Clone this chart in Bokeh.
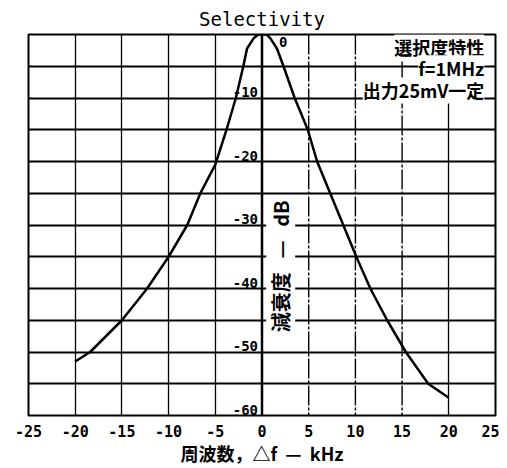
import math
from bokeh.plotting import figure
from bokeh.models import Range1d, FixedTicker, Label, Span
from bokeh.core.properties import value
from bokeh.embed import file_html
from bokeh.resources import INLINE

# ---- data ----
freq_khz = [-20, -18.4, -15, -12.3, -10, -8, -6.6, -5, -3.8, -2.8, -2.0, -1.6, -0.9, -0.4,
            0.5, 0.9, 1.6, 2.3, 3.5, 4.9, 5.9, 7.3, 8.7, 10.1, 11.6, 13.4, 15.4, 17.8, 20]
atten_db = [-51.5, -50, -45, -40, -35, -30, -25, -20.5, -15, -10, -5, -2.2, -0.6, 0,
            0, -0.6, -2.2, -5, -10, -15, -20, -25, -30, -35, -40, -45, -50, -55, -57.2]

x_ticks = [-25, -20, -15, -10, -5, 0, 5, 10, 15, 20, 25]
x_tick_labels = ["-25", "-20", "-15", "-10", "-5", "0", "5", "10", "15", "20", "25"]
x_grid_solid = [-20, -15, -10, -5, 20]
x_grid_dashdot = [5, 10, 15]
y_label_vals = [-10, -20, -30, -40, -50, -60]
y_label_texts = ["-10", "-20", "-30", "-40", "-50", "-60"]
y_zero_val = [0]
y_zero_text = ["0"]
grid_y = [0, -5, -10, -15, -20, -25, -30, -35, -40, -45, -50, -55, -60]

title_text = "Selectivity"
x_label_text = "周波数，△f\u00a0\u00a0—\u00a0\u00a0kHz"
y_label_text = "減衰度\u00a0\u00a0\u00a0—\u00a0\u00a0\u00a0dB"
note_lines = ["選択度特性", "f=1MHz", "出力25mV一定"]

p = figure(width=499, height=468, output_backend="svg", toolbar_location=None,
           x_range=Range1d(-25, 25), y_range=Range1d(-60, 0),
           min_border_left=28, min_border_right=4, min_border_top=34, min_border_bottom=40)

p.title.text = title_text
p.title.align = "center"
p.title.text_font = "DejaVu Sans Mono"
p.title.text_font_size = "19px"
p.title.text_font_style = "normal"
p.title.text_color = "black"
p.title.standoff = 10

p.outline_line_color = "black"
p.outline_line_width = 2
p.outline_line_alpha = 1

# x axis
p.xaxis.ticker = FixedTicker(ticks=x_ticks)
p.xaxis.major_label_overrides = {t: s for t, s in zip(x_ticks, x_tick_labels)}
p.xaxis.major_label_text_font = "DejaVu Sans Mono"
p.xaxis.major_label_text_font_style = "bold"
p.xaxis.major_label_text_font_size = "15px"
p.xaxis.major_label_text_color = "black"
p.xaxis.major_tick_line_color = None
p.xaxis.minor_tick_line_color = None
p.xaxis.axis_line_color = None
p.xaxis.major_label_standoff = 3
p.xaxis.axis_label = x_label_text
p.xaxis.axis_label_text_font = "Noto Sans CJK JP"
p.xaxis.axis_label_text_font_style = "bold"
p.xaxis.axis_label_text_font_size = "18px"
p.xaxis.axis_label_standoff = 0
p.xaxis.axis_label_text_color = "black"

p.yaxis.visible = False

# grids
p.xgrid.ticker = FixedTicker(ticks=x_grid_solid)
p.xgrid.grid_line_color = "black"
p.xgrid.grid_line_width = 1.3
p.xgrid.grid_line_alpha = 1
p.ygrid.ticker = FixedTicker(ticks=grid_y)
p.ygrid.grid_line_color = "black"
p.ygrid.grid_line_width = 1.8
p.ygrid.grid_line_alpha = 1
for xv in x_grid_dashdot:
    p.add_layout(Span(location=xv, dimension="height", line_color="black",
                      line_width=1.4, line_dash="20 2 3 2"))

# central axis line
p.add_layout(Span(location=0, dimension="height", line_color="black", line_width=2.5))

# curve
p.line(freq_khz, atten_db, line_color="black", line_width=2.5, line_join="round")

# y tick labels along the centre axis
p.text(x=[0] * len(y_label_vals), y=y_label_vals, text=y_label_texts,
       text_align="right", text_baseline="bottom", x_offset=-4, y_offset=-1,
       text_font=value("DejaVu Sans Mono"), text_font_style="bold",
       text_font_size="14px", text_color="black")
p.text(x=[0], y=y_zero_val, text=y_zero_text,
       text_align="left", text_baseline="top", x_offset=17, y_offset=2,
       text_font=value("DejaVu Sans Mono"), text_font_style="bold",
       text_font_size="14px", text_color="black")

# rotated y label
p.add_layout(Label(x=2.0, y=-36.5, text=y_label_text, angle=math.pi / 2,
                   text_align="center", text_baseline="middle",
                   text_font="Noto Sans CJK JP", text_font_style="bold",
                   text_font_size="20px", text_color="black",
                   background_fill_color="white"))

# annotation block
note_y = [-2.0, -5.3, -8.8]
for t, yy in zip(note_lines, note_y):
    p.add_layout(Label(x=23.8, y=yy, text=t, text_align="right", text_baseline="middle",
                       text_font="Noto Sans CJK JP", text_font_style="bold",
                       text_font_size="18px", text_color="black",
                       background_fill_color="white"))

open("out.html", "w").write(file_html(p, INLINE))
